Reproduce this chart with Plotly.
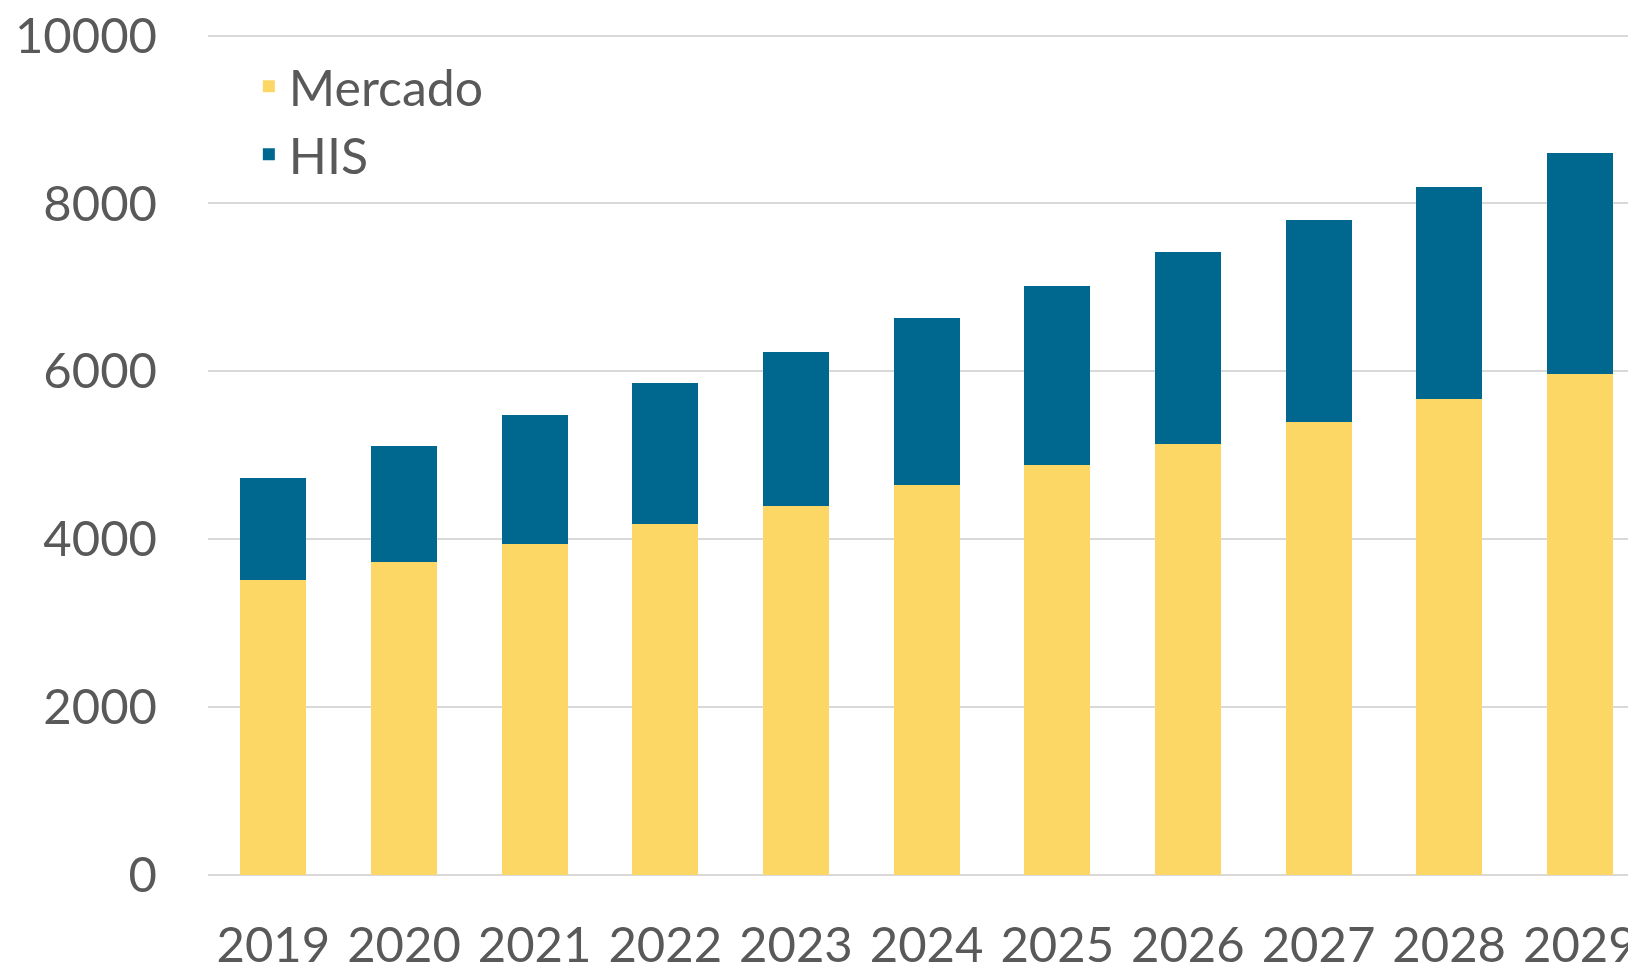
import plotly.graph_objects as go

years = ["2019", "2020", "2021", "2022", "2023", "2024", "2025", "2026", "2027", "2028", "2029"]
mercado = [3510, 3730, 3945, 4185, 4400, 4640, 4885, 5130, 5400, 5670, 5965]
his = [1215, 1375, 1540, 1675, 1830, 1995, 2130, 2290, 2400, 2530, 2640]
y_ticks = [0, 2000, 4000, 6000, 8000, 10000]

FONT = "Lato"
GREY = "#595959"
GRID = "#D9D9D9"

fig = go.Figure()
fig.add_trace(go.Bar(x=years, y=mercado, name="Mercado", marker=dict(color="#FDD766", line=dict(width=0))))
fig.add_trace(go.Bar(x=years, y=his, name="HIS", marker=dict(color="#00688E", line=dict(width=0))))

fig.update_layout(
    width=1636, height=969,
    barmode="stack", bargap=0.495,
    plot_bgcolor="white", paper_bgcolor="white",
    margin=dict(l=200, r=8, t=24.5, b=101.7, autoexpand=False),
    font=dict(family=FONT, color=GREY, size=49),
    legend=dict(
        x=0.0286, y=0.983, xanchor="left", yanchor="top",
        font=dict(family=FONT, color=GREY, size=50),
        traceorder="normal", bgcolor="rgba(0,0,0,0)",
        itemwidth=30, tracegroupgap=0,
    ),
    showlegend=True,
)
fig.update_xaxes(
    type="category", range=[-0.5, 10.43], automargin=False,
    showgrid=False, showline=False, ticks="",
    tickfont=dict(family=FONT, color=GREY, size=49),
    ticklabelstandoff=37, ticklabeloverflow="allow",
)
fig.update_yaxes(
    range=[0, 10030], tickvals=y_ticks, ticktext=[str(v) for v in y_ticks],
    automargin=False,
    showgrid=True, gridcolor=GRID, gridwidth=1.5,
    zeroline=True, zerolinecolor=GRID, zerolinewidth=1.5,
    showline=False, ticks="",
    tickfont=dict(family=FONT, color=GREY, size=49),
    ticklabelstandoff=50, ticklabeloverflow="allow",
)

fig.write_html("out.html")
